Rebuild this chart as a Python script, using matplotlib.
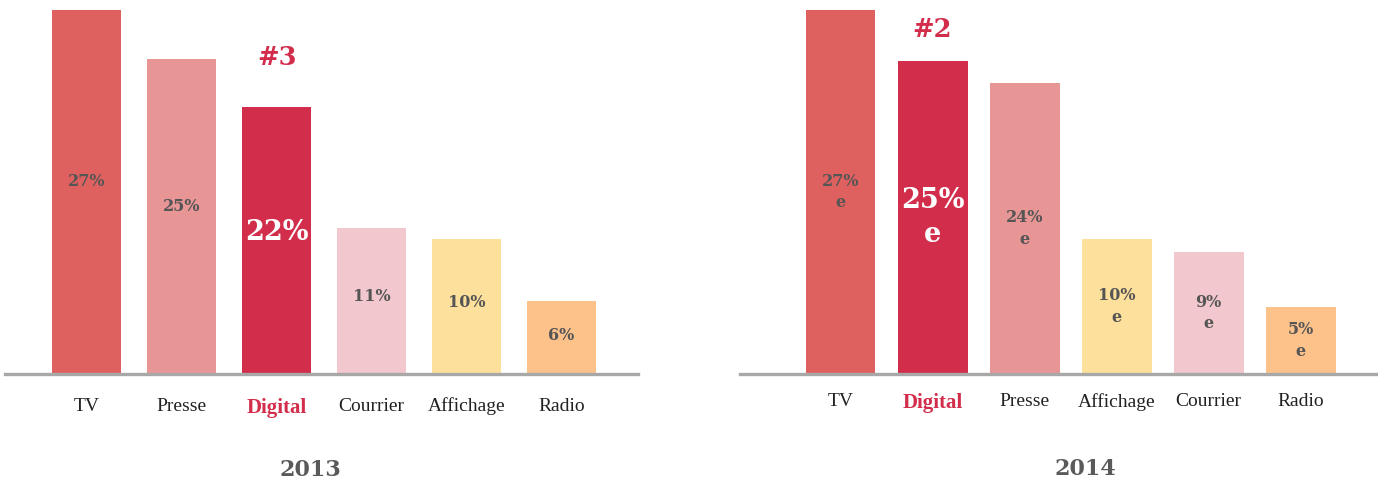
import matplotlib
matplotlib.use("Agg")
import matplotlib.pyplot as plt

# 2013
cats_2013 = ["TV", "Presse", "Digital", "Courrier", "Affichage", "Radio"]
heights_2013 = [27.0, 23.4, 19.8, 10.8, 10.0, 5.4]
labels_2013 = ["27%", "25%", "22%", "11%", "10%", "6%"]

# 2014 (estimates)
cats_2014 = ["TV", "Digital", "Presse", "Affichage", "Courrier", "Radio"]
heights_2014 = [27.0, 23.2, 21.6, 10.0, 9.05, 5.0]
labels_2014 = ["27%\ne", "25%\ne", "24%\ne", "10%\ne", "9%\ne", "5%\ne"]

COLORS = {
    "TV": "#df615f",
    "Presse": "#e89596",
    "Digital": "#d22d4b",
    "Courrier": "#f2c7cd",
    "Affichage": "#fde09b",
    "Radio": "#fdc18a",
}
RED = "#d22d4b"
GREY_TXT = "#555555"
SERIF = ["Liberation Serif", "DejaVu Serif"]
BOLD_SERIF = ["DejaVu Serif"]

W, H = 1378, 486
fig = plt.figure(figsize=(W / 100, H / 100), dpi=100)
fig.patch.set_facecolor("white")


def px_axes(x0, x1, y_top, y_base):
    return fig.add_axes([x0 / W, 1 - y_base / H, (x1 - x0) / W, (y_base - y_top) / H])


def draw_panel(ax, cats, heights, labels, width, xlim, rank, rank_off, lab_frac, year, year_xy, tick_pad):
    xs = list(range(len(cats)))
    ax.bar(xs, heights, width=width, color=[COLORS[c] for c in cats], zorder=1)
    ax.set_xlim(*xlim)
    ax.set_ylim(0, 27.0)
    for s in ("top", "left", "right"):
        ax.spines[s].set_visible(False)
    ax.spines["bottom"].set_color("#a8a8a8")
    ax.spines["bottom"].set_linewidth(2.4)
    ax.spines["bottom"].set_zorder(3)
    ax.set_yticks([])
    ax.set_xticks(xs)
    ax.set_xticklabels(cats, family=SERIF, fontsize=14, color="#222222")
    ax.tick_params(axis="x", length=0, pad=tick_pad)
    for t, c in zip(ax.get_xticklabels(), cats):
        if c == "Digital":
            t.set_color(RED)
            t.set_fontweight("bold")
            t.set_fontsize(15)
    for x, h, lab, c in zip(xs, heights, labels, cats):
        if c == "Digital":
            ax.text(x, h * lab_frac, lab, ha="center", va="center", family=BOLD_SERIF,
                    fontsize=19.5, fontweight="bold", color="white", linespacing=1.35)
            ax.annotate(rank, xy=(x, h), xytext=(0, rank_off), textcoords="offset points",
                        ha="center", va="center", family=BOLD_SERIF, fontsize=18.5,
                        fontweight="bold", color=RED)
        else:
            ax.text(x, h * lab_frac, lab, ha="center", va="center", family=BOLD_SERIF,
                    fontsize=11.5, fontweight="bold", color=GREY_TXT, linespacing=1.35)
    fig.text(year_xy[0] / W, 1 - year_xy[1] / H, year, ha="center", va="center",
             family=BOLD_SERIF, fontsize=16, fontweight="bold", color="#5a5a5a")


ax1 = px_axes(5, 638, 10, 374)
draw_panel(ax1, cats_2013, heights_2013, labels_2013, 0.726, (-0.858, 5.805),
           "#3", 36, 0.53, "2013", (310, 470), 17)

ax2 = px_axes(740, 1378, 10, 374)
draw_panel(ax2, cats_2014, heights_2014, labels_2014, 0.76, (-1.092, 5.84),
           "#2", 23, 0.50, "2014", (1085, 469), 14)

fig.savefig("out.png", dpi=100, facecolor="white")
